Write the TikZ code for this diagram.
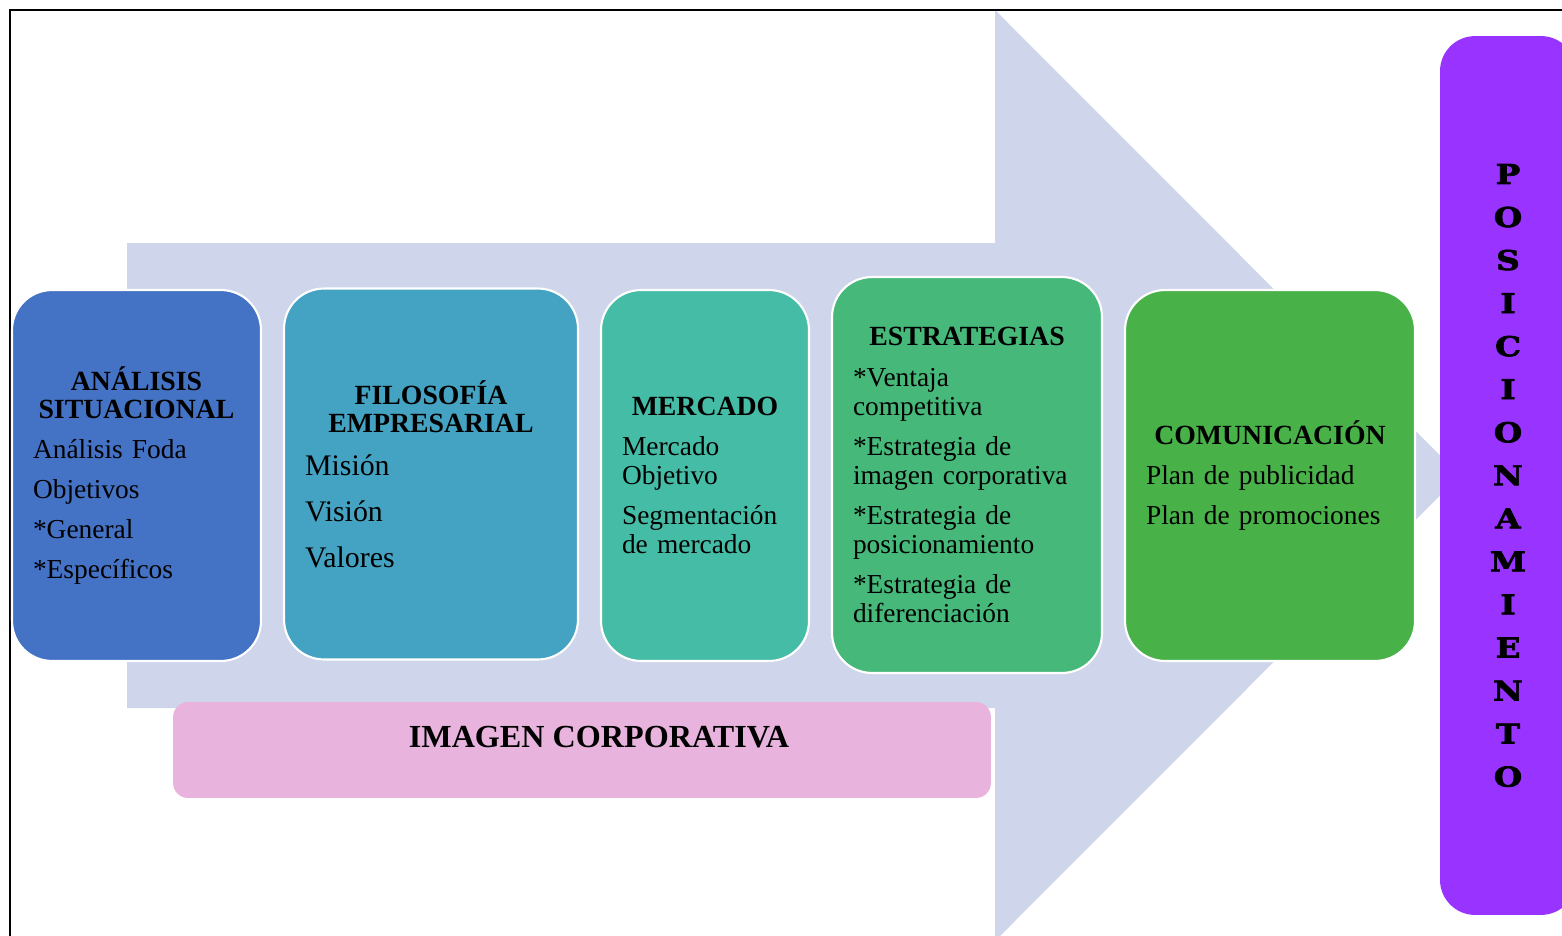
\documentclass[tikz,border=0pt]{standalone}
\usepackage{fontspec}
\setmainfont{Liberation Serif}
\newfontfamily\posfont[FakeStretch=1.2,FakeBold=2.5]{DejaVu Serif}
\usepackage{tikz}

\definecolor{arrowbg}{HTML}{CFD5EA}
\definecolor{analisis}{HTML}{4472C4}
\definecolor{filosofia}{HTML}{44A3C2}
\definecolor{mercado}{HTML}{45BCA6}
\definecolor{estrategia}{HTML}{46B97A}
\definecolor{comunica}{HTML}{48B249}
\definecolor{imagen}{HTML}{E8B4DE}
\definecolor{posic}{HTML}{9933FF}

\newcommand{\stagehead}[1]{{\centering\fontsize{15.8}{16.2}\selectfont\bfseries #1\par}\vspace{6.3pt}}
\newcommand{\stagegap}[1][6.3pt]{\par\vspace{#1}}

\begin{document}
\begin{tikzpicture}[x=0.02cm, y=-0.02cm,
  stage/.style={fill=#1, draw=white, line width=1.2pt, rounded corners=0.8cm,
    inner xsep=0.42cm, inner ysep=0pt, minimum height=7.42cm, align=left,
    font=\fontsize{15.6}{16.5}\selectfont}]
\useasboundingbox (0,0) rectangle (1562,936);

\fill[arrowbg] (127,243) -- (995,243) -- (995,10) -- (1460,475.5) -- (995,941) -- (995,708) -- (127,708) -- cycle;
\draw[line width=1pt] (10,950) -- (10,10) -- (1570,10);

\node[stage=analisis, text width=4.14cm] (analisis) at (136.5,475.5)
  {\stagehead{ANÁLISIS\\SITUACIONAL}Análisis Foda\stagegap Objetivos\stagegap *General\stagegap *Específicos};
\node[stage=filosofia, text width=5.04cm, font=\fontsize{17}{18}\selectfont] (filosofia) at (431,474)
  {\stagehead{FILOSOFÍA\\EMPRESARIAL}Misión\stagegap[8.2pt] Visión\stagegap[8.2pt] Valores};
\node[stage=mercado, text width=3.32cm] (mercado) at (705,475.5)
  {\stagehead{MERCADO}Mercado\newline Objetivo\stagegap Segmentación\newline de mercado};
\node[stage=estrategia, text width=4.56cm, minimum height=7.92cm] (estrategias) at (967,475)
  {\stagehead{ESTRATEGIAS}*Ventaja\newline competitiva\stagegap *Estrategia de\newline imagen corporativa\stagegap
   *Estrategia de\newline posicionamiento\stagegap *Estrategia de\newline diferenciación};
\node[stage=comunica, text width=4.96cm] (comunicacion) at (1270,475.5)
  {\stagehead{COMUNICACIÓN}Plan de publicidad\stagegap Plan de promociones};

\node[fill=imagen, rounded corners=0.3cm, minimum width=16.36cm, minimum height=1.92cm] (imagen) at (582,750) {};
\node[font=\fontsize{18.3}{18.3}\selectfont\bfseries] (imagentxt) at (599,737) {IMAGEN CORPORATIVA};

\node[fill=posic, rounded corners=0.7cm, minimum width=2.72cm, minimum height=17.58cm, align=center,
  font=\posfont\bfseries\fontsize{15.5}{24.5}\selectfont] (posicionamiento) at (1508,475.5)
  {P\\O\\S\\I\\C\\I\\O\\N\\A\\M\\I\\E\\N\\T\\O};
\end{tikzpicture}
\end{document}
